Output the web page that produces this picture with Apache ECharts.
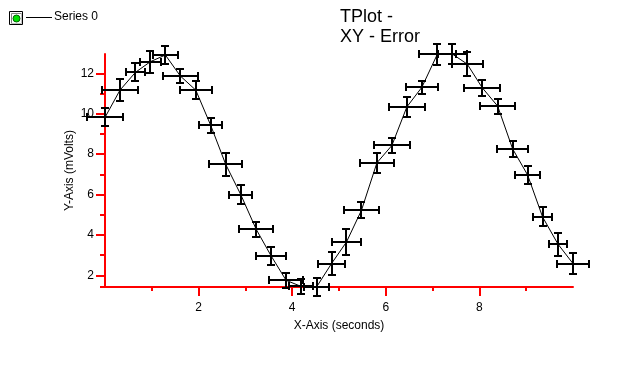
<!DOCTYPE html>
<html>
<head>
<meta charset="utf-8">
<script src="https://cdn.jsdelivr.net/npm/echarts@6/dist/echarts.min.js"></script>
<style>html,body{margin:0;padding:0;background:#fff;}#c{width:637px;height:382px;}</style>
</head>
<body>
<div id="c"></div>
<script>
// Data
const xValues = [0, 0.32, 0.65, 0.97, 1.29, 1.61, 1.94, 2.26, 2.58, 2.90, 3.23, 3.55, 3.87, 4.19, 4.52, 4.84,
                 5.16, 5.48, 5.81, 6.13, 6.45, 6.77, 7.10, 7.42, 7.74, 8.06, 8.39, 8.71, 9.03, 9.35, 9.68, 10.0];
const yValues = [9.82, 11.17, 12.05, 12.58, 12.91, 11.87, 11.17, 9.42, 7.49, 6.00, 4.28, 2.96, 1.75, 1.45, 1.42, 2.58,
                 3.65, 5.22, 7.57, 8.43, 10.34, 11.31, 12.94, 12.96, 12.46, 11.29, 10.38, 8.26, 6.97, 4.89, 3.54, 2.58];
const xErrors = [0.39, 0.38, 0.21, 0.22, 0.27, 0.37, 0.34, 0.25, 0.35, 0.24, 0.36, 0.32, 0.37, 0.25, 0.27, 0.29,
                 0.31, 0.37, 0.37, 0.39, 0.39, 0.34, 0.40, 0.31, 0.33, 0.39, 0.37, 0.33, 0.26, 0.20, 0.20, 0.34];
const yErrors = [0.45, 0.56, 0.44, 0.54, 0.43, 0.33, 0.44, 0.37, 0.59, 0.47, 0.36, 0.44, 0.38, 0.39, 0.44, 0.58,
                 0.65, 0.40, 0.51, 0.38, 0.51, 0.33, 0.52, 0.50, 0.60, 0.40, 0.37, 0.39, 0.45, 0.47, 0.56, 0.52];
const seriesName = 'Series 0';
const titleLines = ['TPlot -', 'XY - Error'];
const xMajorTicks = [2, 4, 6, 8];
const xMinorTicks = [1, 3, 5, 7, 9];
const yMajorTicks = [2, 4, 6, 8, 10, 12];
const yMinorTicks = [1.42, 3, 5, 7, 9, 11];
const xRange = [0, 10];
const yRange = [1.42, 12.96];

const FONT = "'Liberation Sans', Arial, sans-serif";
const RED = '#ff0000';

const lineData = xValues.map((x, i) => [x, yValues[i]]);
const errData = xValues.map((x, i) => [x, yValues[i], xErrors[i], yErrors[i]]);

const chart = echarts.init(document.getElementById('c'), null, {renderer: 'canvas'});

function errItem(params, api) {
  const x = api.value(0), y = api.value(1), ex = api.value(2), ey = api.value(3);
  const R = Math.round;
  const c = api.coord([x, y]).map(R);
  const l = api.coord([x - ex, y]).map(R);
  const r = api.coord([x + ex, y]).map(R);
  const t = api.coord([x, y + ey]).map(R);
  const b = api.coord([x, y - ey]).map(R);
  const cap = 4;
  const st = {stroke: '#000', lineWidth: 2};
  const ln = (x1, y1, x2, y2) => ({type: 'line', shape: {x1, y1, x2, y2}, style: st});
  return {
    type: 'group',
    children: [
      ln(l[0], c[1], r[0], c[1]),
      ln(l[0], c[1] - cap, l[0], c[1] + cap),
      ln(r[0], c[1] - cap, r[0], c[1] + cap),
      ln(c[0], t[1], c[0], b[1]),
      ln(c[0] - cap, t[1], c[0] + cap, t[1]),
      ln(c[0] - cap, b[1], c[0] + cap, b[1])
    ]
  };
}

const axisText = {color: '#000', fontFamily: FONT, fontSize: 12};

chart.setOption({
  animation: false,
  backgroundColor: '#fff',
  grid: {left: 105, right: 64, top: 54, bottom: 95, containLabel: false},
  xAxis: [{
    type: 'value', min: xRange[0], max: xRange[1],
    name: 'X-Axis (seconds)', nameLocation: 'middle', nameGap: 33, nameMoveOverlap: false,
    nameTextStyle: axisText,
    axisLine: {show: true, onZero: false, lineStyle: {color: RED, width: 2}},
    axisTick: {show: true, length: 9, customValues: xMajorTicks, lineStyle: {color: RED, width: 2}},
    axisLabel: Object.assign({margin: 15, customValues: xMajorTicks}, axisText),
    splitLine: {show: false}
  }, {
    type: 'value', min: xRange[0], max: xRange[1], position: 'bottom', offset: 0,
    axisLine: {show: false},
    axisTick: {show: true, length: 4, customValues: xMinorTicks, lineStyle: {color: RED, width: 2}},
    axisLabel: {show: false},
    splitLine: {show: false}
  }],
  yAxis: [{
    type: 'value', min: yRange[0], max: yRange[1],
    name: 'Y-Axis (mVolts)', nameLocation: 'middle', nameGap: 29, nameMoveOverlap: false,
    nameTextStyle: axisText,
    axisLine: {show: true, onZero: false, lineStyle: {color: RED, width: 2}},
    axisTick: {show: true, length: 9, customValues: yMajorTicks, lineStyle: {color: RED, width: 2}},
    axisLabel: Object.assign({margin: 11, customValues: yMajorTicks}, axisText),
    splitLine: {show: false}
  }, {
    type: 'value', min: yRange[0], max: yRange[1], position: 'left', offset: 0,
    axisLine: {show: false},
    axisTick: {show: true, length: 5, customValues: yMinorTicks, lineStyle: {color: RED, width: 2}},
    axisLabel: {show: false},
    splitLine: {show: false}
  }],
  series: [{
    name: seriesName,
    type: 'line',
    data: lineData,
    symbol: 'none',
    lineStyle: {color: '#000', width: 1},
    clip: false,
    z: 3
  }, {
    name: seriesName,
    type: 'custom',
    data: errData,
    renderItem: errItem,
    encode: {x: 0, y: 1},
    clip: false,
    z: 2
  }],
  graphic: [
    {type: 'rect', shape: {x: 9.5, y: 11.5, width: 13, height: 13}, style: {fill: '#fff', stroke: '#000', lineWidth: 1}},
    {type: 'polyline', shape: {points: [[11.5, 23.5], [11.5, 13.5], [21.5, 13.5]]}, style: {stroke: '#808080', lineWidth: 1, fill: null}},
    {type: 'polyline', shape: {points: [[11.5, 23.5], [21.5, 23.5], [21.5, 13.5]]}, style: {stroke: '#c0c0c0', lineWidth: 1, fill: null}},
    {type: 'circle', shape: {cx: 16.5, cy: 18.5, r: 3.5}, style: {fill: '#00e000', stroke: '#006000', lineWidth: 1}},
    {type: 'line', shape: {x1: 26, y1: 17.5, x2: 52, y2: 17.5}, style: {stroke: '#000', lineWidth: 1}},
    {type: 'text', left: 54, top: 11, style: {text: seriesName, fill: '#000', font: '12px ' + FONT}},
    {type: 'text', left: 340, top: 7, style: {text: titleLines.join('\n'), fill: '#000', font: '18px ' + FONT, lineHeight: 20}}
  ]
});
</script>
</body>
</html>
